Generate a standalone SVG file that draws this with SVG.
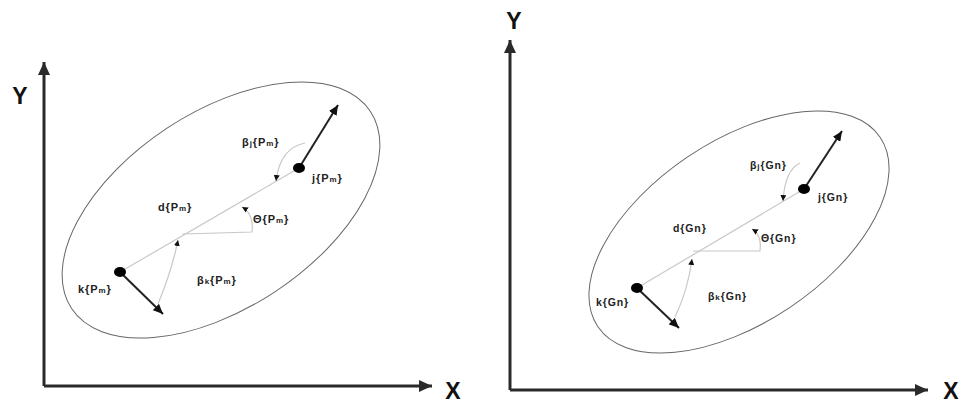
<svg xmlns="http://www.w3.org/2000/svg" width="977" height="403" viewBox="0 0 977 403">
<style>
.axis{stroke:#2a2a2a;stroke-width:3;fill:none}
.vel{stroke:#222;stroke-width:2;fill:none}
.aux{stroke:#c8c8c8;stroke-width:1.2;fill:none}
.ell{stroke:#666;stroke-width:1;fill:none}
.lbl{font-family:"Liberation Sans",Arial,sans-serif;font-weight:bold;font-size:11px;fill:#222;letter-spacing:0.9px}
.lbr{font-family:"Liberation Sans",Arial,sans-serif;font-weight:bold;font-size:10.5px;fill:#222;letter-spacing:0.9px}
.ax{font-family:"Liberation Sans",Arial,sans-serif;font-weight:bold;font-size:23px;fill:#111;text-anchor:middle}
.sm{font-size:8px}
</style>
<defs>
<marker id="ah" markerUnits="userSpaceOnUse" markerWidth="14" markerHeight="12" refX="13" refY="6" orient="auto"><path d="M0,0 L13,6 L0,12 z" fill="#2a2a2a"/></marker>
<marker id="vh" markerUnits="userSpaceOnUse" markerWidth="11" markerHeight="9" refX="10" refY="4.5" orient="auto"><path d="M0,0 L10,4.5 L0,9 z" fill="#111"/></marker>
<marker id="sh" markerUnits="userSpaceOnUse" markerWidth="7" markerHeight="7" refX="6" refY="3" orient="auto"><path d="M0,0 L6,3 L0,6 z" fill="#111"/></marker>
</defs>

<g id="left-panel">
  <g id="left-axes">
    <line class="axis" x1="44" y1="386" x2="44" y2="62" marker-end="url(#ah)"/>
    <line class="axis" x1="44" y1="386" x2="432" y2="386" marker-end="url(#ah)"/>
    <text class="ax" x="20" y="104">Y</text>
    <text class="ax" x="453" y="399">X</text>
  </g>
  <g id="left-ellipse"><ellipse class="ell" cx="221" cy="210" rx="179" ry="98" transform="rotate(-33.4 221 210)"/></g>
  <g id="left-connectors">
    <line class="aux" x1="120" y1="272" x2="299" y2="168"/>
    <path class="aux" d="M182,234 L252,232 Q254,214 242,207" marker-end="url(#sh)"/>
    <path class="aux" d="M158,304 Q172,270 178,240" marker-end="url(#sh)"/>
    <path class="aux" d="M305,143 Q280,148 276,181" marker-end="url(#sh)"/>
    <line class="vel" x1="120" y1="272" x2="163" y2="314" marker-end="url(#vh)"/>
    <line class="vel" x1="299" y1="168" x2="338" y2="105" marker-end="url(#vh)"/>
  </g>
  <g id="left-k"><ellipse cx="120" cy="272" rx="6" ry="5" fill="#000"/><text class="lbl" x="78" y="293">k{P<tspan class="sm">m</tspan>}</text></g>
  <g id="left-j"><ellipse cx="299" cy="168" rx="6" ry="5" fill="#000"/><text class="lbl" x="312" y="182">j{P<tspan class="sm">m</tspan>}</text></g>
  <g id="left-labels">
    <text class="lbl" x="242" y="146">β<tspan class="sm">j</tspan>{P<tspan class="sm">m</tspan>}</text>
    <text class="lbl" x="158" y="211">d{P<tspan class="sm">m</tspan>}</text>
    <text class="lbl" x="253" y="223">Θ{P<tspan class="sm">m</tspan>}</text>
    <text class="lbl" x="197" y="284">β<tspan class="sm">k</tspan>{P<tspan class="sm">m</tspan>}</text>
  </g>
</g>

<g id="right-panel">
  <g id="right-axes">
    <line class="axis" x1="510" y1="390" x2="510" y2="40" marker-end="url(#ah)"/>
    <line class="axis" x1="510" y1="390" x2="928" y2="390" marker-end="url(#ah)"/>
    <text class="ax" x="514" y="29">Y</text>
    <text class="ax" x="951" y="399">X</text>
  </g>
  <g id="right-ellipse"><ellipse class="ell" cx="739" cy="232" rx="170" ry="91" transform="rotate(-33.8 739 232)"/></g>
  <g id="right-connectors">
    <line class="aux" x1="637" y1="288" x2="804" y2="189"/>
    <path class="aux" d="M693,251 L760,251 Q762,235 752,229" marker-end="url(#sh)"/>
    <path class="aux" d="M675,317 Q688,290 692,259" marker-end="url(#sh)"/>
    <path class="aux" d="M800,163 Q785,170 783,201" marker-end="url(#sh)"/>
    <line class="vel" x1="637" y1="288" x2="679" y2="328" marker-end="url(#vh)"/>
    <line class="vel" x1="804" y1="189" x2="842" y2="131" marker-end="url(#vh)"/>
  </g>
  <g id="right-k"><ellipse cx="637" cy="288" rx="6" ry="5" fill="#000"/><text class="lbr" x="596" y="306">k{Gn}</text></g>
  <g id="right-j"><ellipse cx="804" cy="189" rx="6" ry="5" fill="#000"/><text class="lbr" x="818" y="201">j{Gn}</text></g>
  <g id="right-labels">
    <text class="lbr" x="750" y="169">β<tspan class="sm">j</tspan>{Gn}</text>
    <text class="lbr" x="673" y="232">d{Gn}</text>
    <text class="lbr" x="761" y="242">Θ{Gn}</text>
    <text class="lbr" x="708" y="300">β<tspan class="sm">k</tspan>{Gn}</text>
  </g>
</g>
</svg>
